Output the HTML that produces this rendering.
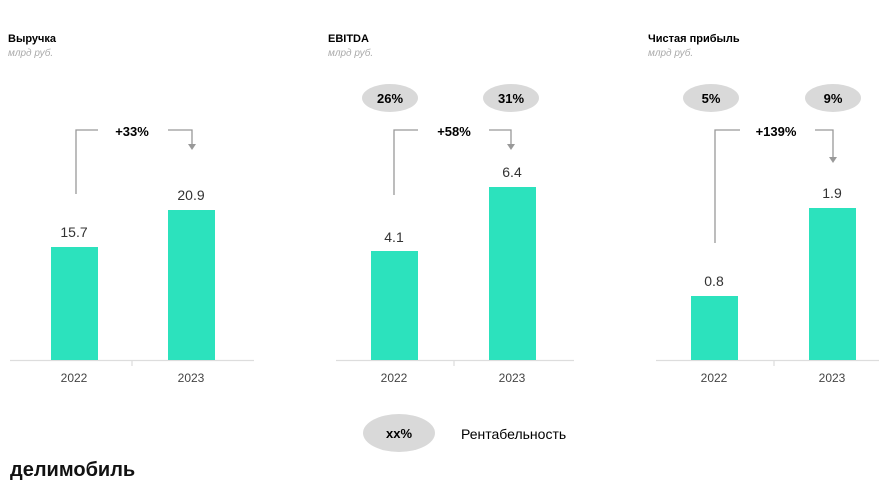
<!DOCTYPE html>
<html><head><meta charset="utf-8"><style>body{margin:0;background:#fff}svg{display:block}</style></head><body>
<svg width="879" height="481" xmlns="http://www.w3.org/2000/svg" font-family="Liberation Sans, DejaVu Sans, sans-serif">
<g font-size="11" font-weight="bold" fill="#000">
<text x="8" y="42">Выручка</text><text x="328" y="42">EBITDA</text><text x="648" y="42">Чистая прибыль</text></g>
<g font-size="10" font-style="italic" fill="#aaa">
<text x="8" y="56">млрд руб.</text><text x="328" y="56">млрд руб.</text><text x="648" y="56">млрд руб.</text></g>
<g stroke="#ddd" stroke-width="1.2" fill="none">
<path d="M10 360.5H254M132 360v6"/><path d="M336 360.5H574M454 360v6"/><path d="M656 360.5H879M774 360v6"/></g>
<g fill="#2ce2bd">
<rect x="51" y="247" width="47" height="113"/><rect x="168" y="210" width="47" height="150"/>
<rect x="371" y="251" width="47" height="109"/><rect x="489" y="187" width="47" height="173"/>
<rect x="691" y="296" width="47" height="64"/><rect x="809" y="208" width="47" height="152"/></g>
<g font-size="14" fill="#333" text-anchor="middle">
<text x="74" y="237">15.7</text><text x="191" y="200">20.9</text>
<text x="394" y="242">4.1</text><text x="512" y="177">6.4</text>
<text x="714" y="286">0.8</text><text x="832" y="198">1.9</text></g>
<g font-size="12" fill="#444" text-anchor="middle">
<text x="74" y="382">2022</text><text x="191" y="382">2023</text>
<text x="394" y="382">2022</text><text x="512" y="382">2023</text>
<text x="714" y="382">2022</text><text x="832" y="382">2023</text></g>
<g stroke="#999" stroke-width="1.3" fill="none">
<path d="M76 194V130H98M168 130H192V145"/>
<path d="M394 195V130H418M489 130H511V145"/>
<path d="M715 243V130H740M815 130H833V158"/></g>
<g fill="#999"><path d="M188 144h8l-4 6z"/><path d="M507 144h8l-4 6z"/><path d="M829 157h8l-4 6z"/></g>
<g font-size="13" font-weight="bold" fill="#000" text-anchor="middle">
<text x="132" y="136">+33%</text><text x="454" y="136">+58%</text><text x="776" y="136">+139%</text></g>
<g fill="#d9d9d9"><ellipse cx="390" cy="98" rx="28" ry="14"/><ellipse cx="511" cy="98" rx="28" ry="14"/>
<ellipse cx="711" cy="98" rx="28" ry="14"/><ellipse cx="833" cy="98" rx="28" ry="14"/>
<ellipse cx="399" cy="433" rx="36" ry="19"/></g>
<g font-size="13" font-weight="bold" fill="#000" text-anchor="middle">
<text x="390" y="103">26%</text><text x="511" y="103">31%</text><text x="711" y="103">5%</text><text x="833" y="103">9%</text><text x="399" y="438">xx%</text></g>
<text x="461" y="439" font-size="14" fill="#000">Рентабельность</text>
<text x="10" y="476" font-size="20" font-weight="bold" fill="#111">делимобиль</text>
</svg>
</body></html>
